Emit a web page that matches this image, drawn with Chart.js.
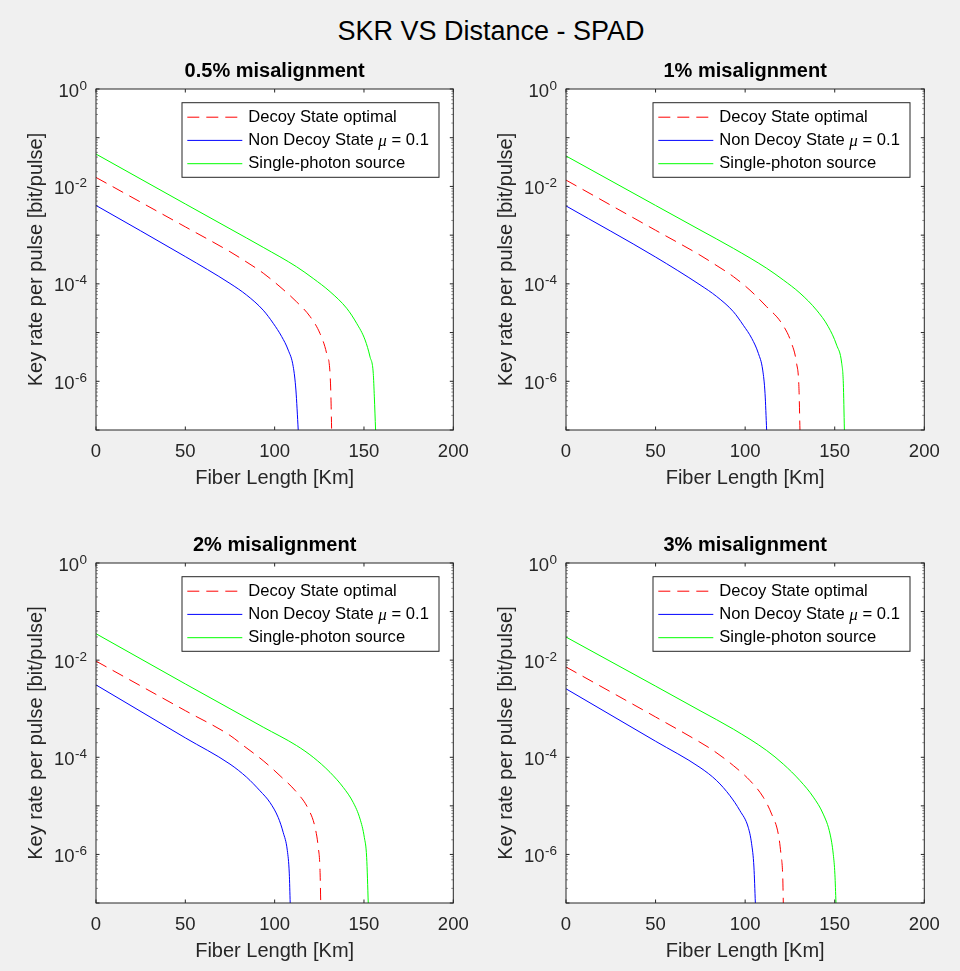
<!DOCTYPE html>
<html>
<head>
<meta charset="utf-8">
<title>SKR VS Distance - SPAD</title>
<script src="https://cdn.jsdelivr.net/npm/chart.js@4.4.1/dist/chart.umd.min.js"></script>
<style>
  html, body { margin: 0; padding: 0; background: #f0f0f0; overflow: hidden; }
  body { width: 960px; height: 971px; position: relative; font-family: 'Liberation Sans', Arial, sans-serif; }
  #suptitle { position: absolute; left: 0; top: 18px; width: 982px; text-align: center; font-size: 27px; line-height: 27px; color: #000; }
  canvas { position: absolute; }
</style>
</head>
<body>
<div id="suptitle">SKR VS Distance - SPAD</div>
<canvas id="p0" width="470" height="450" style="left:0;top:50px"></canvas>
<canvas id="p1" width="480" height="450" style="left:470px;top:50px"></canvas>
<canvas id="p2" width="470" height="449" style="left:0;top:524px"></canvas>
<canvas id="p3" width="480" height="449" style="left:470px;top:524px"></canvas>
<script>
  // Panels and axes
  const panelTitles = ['0.5% misalignment', '1% misalignment', '2% misalignment', '3% misalignment'];
  const seriesLabels = ['Decoy State optimal', 'Non Decoy State μ = 0.1', 'Single-photon source'];
  const xTicks = [0, 50, 100, 150, 200];
  const yTickExponents = [0, -2, -4, -6];

  // Decoy State optimal (one list per panel)
  const decoyKm = [
    [0, 50, 75, 82.5, 93.6, 103, 112.3, 119.8, 125.4, 129.1, 131.0, 131.5, 131.9],
    [0, 50, 74.8, 82.2, 93.4, 102.7, 112.0, 120.4, 125.9, 128.7, 130.0, 130.6],
    [0, 50, 75, 82.5, 93.6, 103, 112.3, 118.8, 122.6, 124.4, 125.4, 125.8],
    [0, 50, 74.8, 82.2, 93.4, 102.7, 110.1, 114.8, 118.5, 120.0, 121.0, 121.3]
  ];
  const decoyRate = [
    [1.53e-2, 1.48e-3, 4.57e-4, 3.09e-4, 1.66e-4, 8.71e-5, 4.27e-5, 2.14e-5, 9.55e-6, 3.72e-6, 1.45e-6, 4.79e-7, 1e-7],
    [1.35e-2, 1.26e-3, 3.89e-4, 2.63e-4, 1.41e-4, 7.41e-5, 3.39e-5, 1.55e-5, 6.03e-6, 2.34e-6, 7.76e-7, 1e-7],
    [9.55e-3, 9.12e-4, 2.82e-4, 1.74e-4, 8.51e-5, 4.17e-5, 1.91e-5, 8.71e-6, 3.63e-6, 1.41e-6, 4.68e-7, 1e-7],
    [7.24e-3, 6.76e-4, 2.04e-4, 1.38e-4, 6.76e-5, 3.31e-5, 1.51e-5, 6.76e-6, 2.63e-6, 1.0e-6, 3.31e-7, 1e-7]
  ];

  // Non Decoy State mu = 0.1
  const nonDecoyKm = [
    [0, 50, 75, 84.3, 93.6, 99.2, 103.9, 107.6, 110.4, 111.9, 113.2],
    [0, 50, 74.8, 84.1, 93.4, 99.0, 103.7, 107.4, 109.8, 111.1, 112.0],
    [0, 50, 75, 84.3, 91.8, 97.4, 102.0, 104.8, 107.1, 108.2, 108.7],
    [0, 50, 74.8, 84.1, 91.5, 97.1, 101.7, 103.6, 104.9, 105.7]
  ];
  const nonDecoyRate = [
    [4.07e-3, 3.63e-4, 1.02e-4, 5.89e-5, 2.88e-5, 1.55e-5, 8.32e-6, 4.37e-6, 2.0e-6, 6.61e-7, 1e-7],
    [3.98e-3, 3.55e-4, 9.55e-5, 5.50e-5, 2.69e-5, 1.41e-5, 7.59e-6, 3.72e-6, 1.70e-6, 5.62e-7, 1e-7],
    [3.09e-3, 2.51e-4, 7.24e-5, 3.89e-5, 2.04e-5, 1.17e-5, 5.75e-6, 2.82e-6, 1.20e-6, 3.98e-7, 1e-7],
    [2.57e-3, 2.14e-4, 6.17e-5, 3.31e-5, 1.62e-5, 7.94e-6, 3.63e-6, 1.66e-6, 5.50e-7, 1e-7]
  ];

  // Single-photon source
  const singleKm = [
    [0, 50, 75, 93.6, 112.3, 121.6, 131.0, 140.3, 145.9, 150.6, 153.4, 155.2, 155.8, 156.5],
    [0, 50, 74.8, 93.4, 112.0, 121.3, 130.6, 139.9, 146.4, 151.1, 153.9, 154.8, 155.4],
    [0, 50, 75, 93.6, 112.3, 121.6, 131.0, 138.4, 144.0, 147.8, 150.2, 151.5, 152.4],
    [0, 50, 74.8, 93.4, 112.0, 121.3, 130.6, 138.1, 143.6, 147.4, 149.2, 150.1, 150.7]
  ];
  const singleRate = [
    [4.62e-2, 4.37e-3, 1.35e-3, 5.62e-4, 2.24e-4, 1.29e-4, 6.92e-5, 3.16e-5, 1.55e-5, 7.08e-6, 3.16e-6, 1.45e-6, 4.79e-7, 1e-7],
    [4.22e-2, 4.07e-3, 1.28e-3, 5.37e-4, 2.09e-4, 1.20e-4, 6.46e-5, 2.88e-5, 1.32e-5, 5.50e-6, 2.34e-6, 9.12e-7, 1e-7],
    [3.50e-2, 3.24e-3, 1.0e-3, 4.17e-4, 1.74e-4, 1.0e-4, 4.90e-5, 2.40e-5, 1.17e-5, 5.37e-6, 2.24e-6, 8.71e-7, 1e-7],
    [2.99e-2, 2.92e-3, 9.12e-4, 3.80e-4, 1.38e-4, 7.24e-5, 3.31e-5, 1.51e-5, 6.76e-6, 2.63e-6, 1.0e-6, 3.89e-7, 1e-7]
  ];

  const FONT = "'Liberation Sans', Arial, sans-serif";
  const AXIS_COLOR = '#262626';
  Chart.defaults.font.family = FONT;

  function toPoints(xs, ys) {
    return xs.map((x, i) => ({ x: x, y: ys[i] }));
  }

  // MATLAB style box, inward ticks, 10^n labels, panel title and legend
  const matlabAxes = {
    id: 'matlabAxes',
    beforeDraw(chart) {
      const { ctx, chartArea: a } = chart;
      ctx.save();
      ctx.fillStyle = '#fff';
      ctx.fillRect(a.left, a.top, a.right - a.left, a.bottom - a.top);
      ctx.restore();
    },
    afterDatasetsDraw(chart) {
      const { ctx, chartArea: a } = chart;
      const x = chart.scales.x, y = chart.scales.y;
      ctx.save();
      ctx.strokeStyle = AXIS_COLOR;
      ctx.lineWidth = 1;
      ctx.strokeRect(a.left, a.top, a.right - a.left, a.bottom - a.top);

      ctx.beginPath();
      xTicks.forEach(v => {
        const px = x.getPixelForValue(v);
        ctx.moveTo(px, a.bottom); ctx.lineTo(px, a.bottom - 3.5);
        ctx.moveTo(px, a.top); ctx.lineTo(px, a.top + 3.5);
      });
      for (let e = -7; e <= 0; e++) {
        const py = y.getPixelForValue(Math.pow(10, e));
        ctx.moveTo(a.left, py); ctx.lineTo(a.left + 3.5, py);
        ctx.moveTo(a.right, py); ctx.lineTo(a.right - 3.5, py);
      }
      ctx.stroke();

      // minor log ticks
      ctx.strokeStyle = 'rgba(38,38,38,0.5)';
      ctx.beginPath();
      for (let e = -7; e < 0; e++) {
        for (let m = 2; m <= 9; m++) {
          const py = y.getPixelForValue(m * Math.pow(10, e));
          ctx.moveTo(a.left, py); ctx.lineTo(a.left + 2, py);
          ctx.moveTo(a.right, py); ctx.lineTo(a.right - 2, py);
        }
      }
      ctx.stroke();

      // y tick labels 10^n
      ctx.fillStyle = AXIS_COLOR;
      ctx.textAlign = 'right';
      ctx.textBaseline = 'alphabetic';
      const rightX = a.left - 9;
      yTickExponents.forEach(e => {
        const py = y.getPixelForValue(Math.pow(10, e));
        const sup = String(e);
        ctx.font = '13.5px ' + FONT;
        const sw = ctx.measureText(sup).width;
        ctx.fillText(sup, rightX, py + 0.5);
        ctx.font = '18.5px ' + FONT;
        ctx.fillText('10', rightX - sw - 0.5, py + 7.5);
      });

      // panel title, centred on the axes
      ctx.fillStyle = '#000';
      ctx.textAlign = 'center';
      ctx.textBaseline = 'middle';
      ctx.font = 'bold 20px ' + FONT;
      ctx.fillText(chart.options.panelTitle, (a.left + a.right) / 2, a.top - 17.6);

      // legend
      const lw = 257, lh = 74.6;
      const lx = a.right - 14.3 - lw, ly = a.top + 13.7;
      ctx.fillStyle = '#fff';
      ctx.fillRect(lx, ly, lw, lh);
      ctx.strokeStyle = AXIS_COLOR;
      ctx.strokeRect(lx, ly, lw, lh);
      const rowY = [14.5, 37.7, 61];
      ctx.textAlign = 'left';
      chart.data.datasets.forEach((ds, k) => {
        const ry = ly + rowY[k];
        ctx.strokeStyle = ds.borderColor;
        ctx.setLineDash(ds.borderDash || []);
        ctx.beginPath();
        ctx.moveTo(lx + 5.3, ry); ctx.lineTo(lx + 60.3, ry);
        ctx.stroke();
        ctx.setLineDash([]);
        ctx.fillStyle = '#000';
        let tx = lx + 66.3;
        ds.label.split('μ').forEach((part, j) => {
          if (j > 0) {
            ctx.font = "italic 17px 'Liberation Serif', serif";
            ctx.fillText('μ', tx, ry + 1);
            tx += ctx.measureText('μ').width;
          }
          ctx.font = '16.6px ' + FONT;
          ctx.fillText(part, tx, ry);
          tx += ctx.measureText(part).width;
        });
      });
      ctx.restore();
    }
  };

  function makeChart(i) {
    const canvas = document.getElementById('p' + i);
    const plotRight = i % 2 ? 454.3 : 453.3;
    return new Chart(canvas, {
      type: 'line',
      data: {
        datasets: [
          { label: seriesLabels[0], data: toPoints(decoyKm[i], decoyRate[i]), borderColor: '#ff0000', borderDash: [12, 7], borderWidth: 1 },
          { label: seriesLabels[1], data: toPoints(nonDecoyKm[i], nonDecoyRate[i]), borderColor: '#0000ff', borderWidth: 1 },
          { label: seriesLabels[2], data: toPoints(singleKm[i], singleRate[i]), borderColor: '#00ff00', borderWidth: 1 }
        ]
      },
      options: {
        panelTitle: panelTitles[i],
        responsive: false,
        animation: false,
        devicePixelRatio: 1,
        layout: { padding: { left: 0, right: canvas.width - plotRight, top: 39, bottom: 0 } },
        elements: {
          point: { radius: 0 },
          line: { cubicInterpolationMode: 'monotone' }
        },
        plugins: {
          legend: { display: false },
          tooltip: { enabled: false },
          title: { display: false }
        },
        scales: {
          x: {
            type: 'linear',
            min: 0,
            max: 200,
            afterBuildTicks: s => { s.ticks = xTicks.map(v => ({ value: v })); },
            afterFit: s => { s.height = 70; s.paddingLeft = 0; s.paddingRight = 0; },
            grid: { display: false, drawTicks: false },
            border: { display: false },
            ticks: { color: AXIS_COLOR, font: { size: 18.5 }, padding: 10.5, maxRotation: 0, autoSkip: false },
            title: { display: true, text: 'Fiber Length [Km]', color: AXIS_COLOR, font: { size: 20 }, padding: { top: 0, bottom: 10 } }
          },
          y: {
            type: 'logarithmic',
            min: 1e-7,
            max: 1,
            afterFit: s => { s.width = 96; s.paddingTop = 0; s.paddingBottom = 0; },
            grid: { display: false, drawTicks: false },
            border: { display: false },
            ticks: { display: false },
            title: { display: true, text: 'Key rate per pulse [bit/pulse]', color: AXIS_COLOR, font: { size: 20 }, padding: { top: 24, bottom: 0 } }
          }
        }
      },
      plugins: [matlabAxes]
    });
  }

  [0, 1, 2, 3].forEach(makeChart);
</script>
</body>
</html>
